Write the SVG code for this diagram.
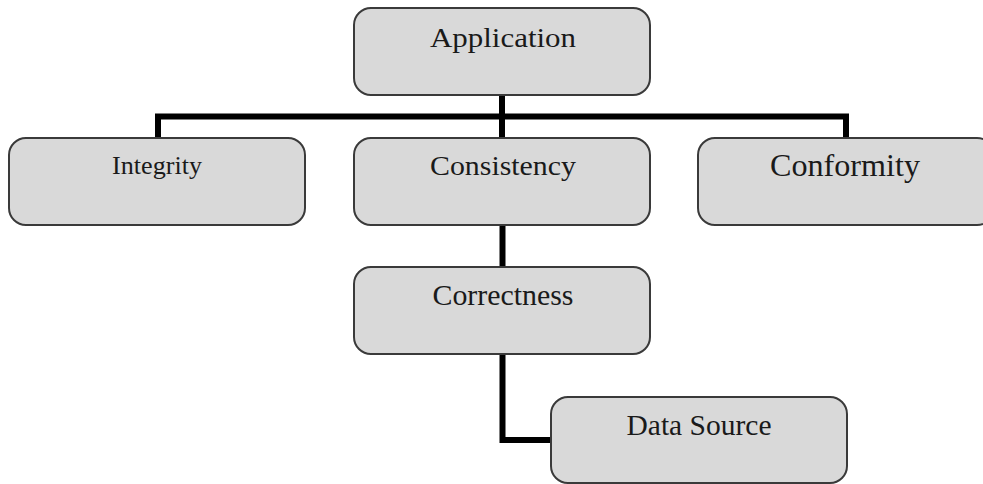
<svg xmlns="http://www.w3.org/2000/svg" width="983" height="484" viewBox="0 0 983 484">
  <style>
    .box { fill: #d9d9d9; stroke: #3a3a3a; stroke-width: 2; }
    .lbl { font-family: "Liberation Serif", "Times New Roman", serif; fill: #1a1a1a; text-anchor: middle; }
    .link { fill: none; stroke: #000; stroke-width: 6; stroke-linejoin: miter; stroke-linecap: butt; }
  </style>
  <rect width="983" height="484" fill="#fff"/>

  <!-- connectors -->
  <g id="connectors">
    <path class="link" d="M502,95 V138"/>
    <path class="link" d="M158,138 V116.5 H846 V138"/>
    <path class="link" d="M502.5,225 V267"/>
    <path class="link" d="M502.5,354 V440 H551"/>
  </g>

  <g id="application">
    <rect class="box" x="354" y="8" width="296" height="87" rx="17"/>
    <text class="lbl" x="503" y="47" font-size="28" textLength="146" lengthAdjust="spacingAndGlyphs">Application</text>
  </g>

  <g id="integrity">
    <rect class="box" x="9" y="138" width="296" height="87" rx="17"/>
    <text class="lbl" x="157" y="174" font-size="25" textLength="90" lengthAdjust="spacingAndGlyphs">Integrity</text>
  </g>

  <g id="consistency">
    <rect class="box" x="354" y="138" width="296" height="87" rx="17"/>
    <text class="lbl" x="503" y="175" font-size="28" textLength="146" lengthAdjust="spacingAndGlyphs">Consistency</text>
  </g>

  <g id="conformity">
    <rect class="box" x="698" y="138" width="296" height="87" rx="17"/>
    <text class="lbl" x="845" y="176" font-size="32" textLength="150" lengthAdjust="spacingAndGlyphs">Conformity</text>
  </g>

  <g id="correctness">
    <rect class="box" x="354" y="267" width="296" height="87" rx="17"/>
    <text class="lbl" x="503" y="305" font-size="29" textLength="141" lengthAdjust="spacingAndGlyphs">Correctness</text>
  </g>

  <g id="data-source">
    <rect class="box" x="551" y="397" width="296" height="86" rx="17"/>
    <text class="lbl" x="699" y="435" font-size="29" textLength="145" lengthAdjust="spacingAndGlyphs">Data Source</text>
  </g>
</svg>
